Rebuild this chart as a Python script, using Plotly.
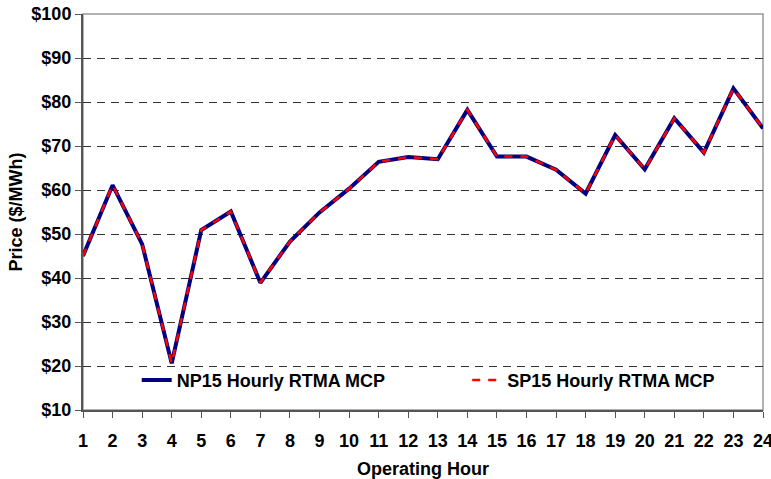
import plotly.graph_objects as go

hours = list(range(1, 25))
np15 = [45.0, 61.1, 47.7, 20.6, 50.9, 55.1, 38.9, 48.3, 54.9, 60.3, 66.4, 67.5,
        67.0, 78.2, 67.6, 67.6, 64.6, 59.2, 72.5, 64.7, 76.3, 68.5, 83.1, 74.0]
sp15 = list(np15)
y_ticks = [10, 20, 30, 40, 50, 60, 70, 80, 90, 100]
y_labels = ["$" + str(v) for v in y_ticks]

font_family = "Liberation Sans, Arial, sans-serif"
bold = dict(size=18, family=font_family, weight="bold", color="black")

fig = go.Figure()
fig.add_trace(go.Scatter(
    x=hours, y=np15, mode="lines", name="NP15 Hourly RTMA MCP",
    line=dict(color="#000080", width=4), legend="legend", showlegend=True))
fig.add_trace(go.Scatter(
    x=hours, y=sp15, mode="lines", name="SP15 Hourly RTMA MCP",
    line=dict(color="#ff0000", width=2.5, dash="8px,8px"), legend="legend2",
    showlegend=True))

fig.update_layout(
    width=771, height=479,
    margin=dict(l=83, r=8, t=14, b=69),
    paper_bgcolor="white", plot_bgcolor="white",
    showlegend=True,
    font=dict(family=font_family, size=18, color="black"),
    legend=dict(x=0.079, y=0.075, xanchor="left", yanchor="middle",
                bgcolor="rgba(0,0,0,0)", font=bold, itemwidth=30,
                borderwidth=0),
    legend2=dict(x=0.565, y=0.075, xanchor="left", yanchor="middle",
                 bgcolor="rgba(0,0,0,0)", font=bold, itemwidth=30,
                 borderwidth=0),
    xaxis=dict(
        range=[1, 24], tickmode="array", tickvals=hours,
        ticktext=[str(h) for h in hours], automargin=False,
        showgrid=False, zeroline=False,
        showline=True, linecolor="#555555", linewidth=2,
        ticks="outside", ticklen=6, tickcolor="#555555", tickwidth=1,
        tickfont=bold, ticklabelstandoff=7, ticklabeloverflow="allow",
        title=dict(text="Operating Hour", font=bold, standoff=13),
    ),
    yaxis=dict(
        range=[10, 100], tickmode="array", tickvals=y_ticks, ticktext=y_labels,
        showgrid=True, gridcolor="#333333", griddash="8px,6px", gridwidth=1,
        zeroline=False, automargin=False,
        showline=True, linecolor="#555555", linewidth=2,
        ticks="outside", ticklen=6, tickcolor="#555555", tickwidth=1,
        tickfont=bold, ticklabeloverflow="allow",
        title=dict(text="Price ($/MWh)", font=bold, standoff=4),
    ),
)

fig.add_shape(type="rect", xref="paper", yref="paper", x0=0, y0=0, x1=1, y1=1,
              line=dict(color="#999999", width=1.5), layer="below")

fig.write_html("out.html", config={"displayModeBar": False},
               post_script="document.body.style.margin='0';")
